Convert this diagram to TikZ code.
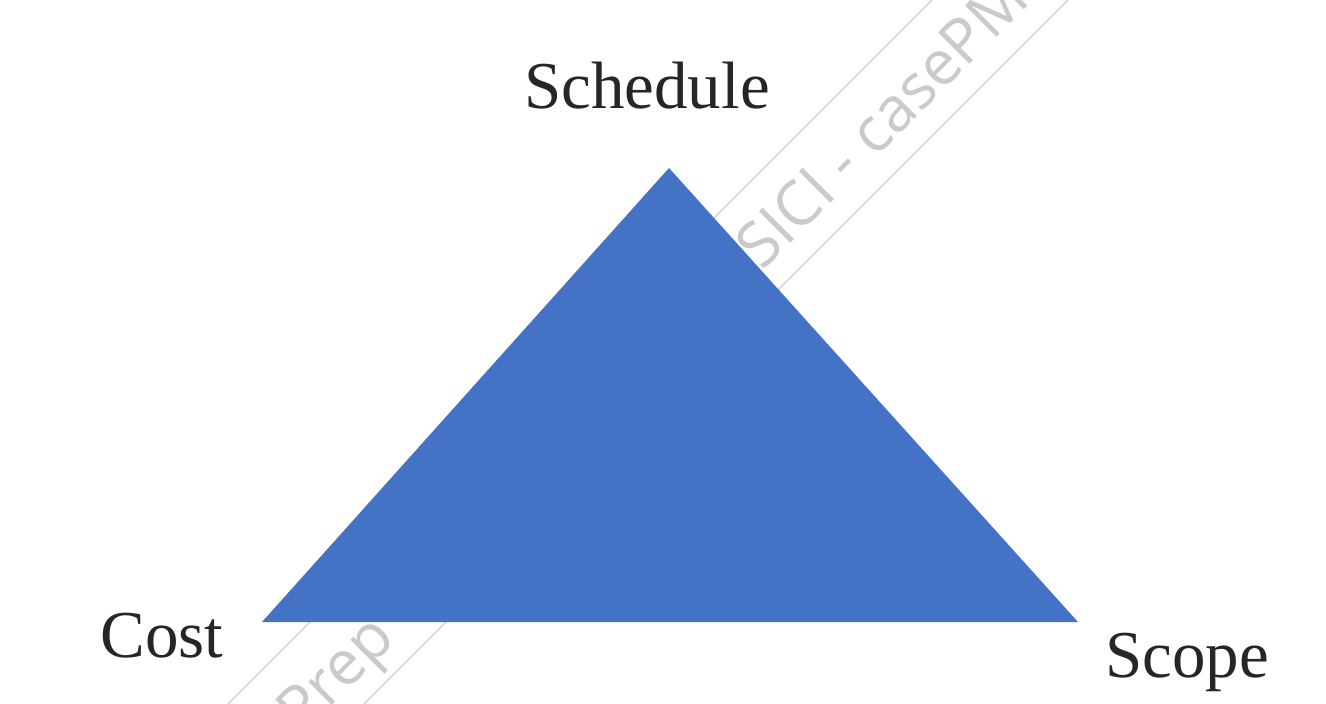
\documentclass[tikz,border=0pt]{standalone}
\usepackage{fontspec}
\setmainfont{Liberation Serif}
\newfontfamily\markfont{Open Sans}
\definecolor{triblue}{HTML}{4472C4}
\definecolor{markgray}{HTML}{CACACA}
\definecolor{bandgray}{HTML}{D6D6D6}
\begin{document}
\begin{tikzpicture}[x=1pt,y=-1pt,
  corner/.style={font=\fontsize{67}{80}\selectfont, text=black!85, inner sep=0pt, anchor=base},
  wmtext/.style={font=\markfont\fontsize{62}{72}\selectfont, text=markgray, inner sep=0pt, anchor=base west, rotate=45},
  band/.style={draw=bandgray, line width=1.6pt}]
  \useasboundingbox[fill=white] (0,0) rectangle (1326,704);
  % diagonal watermark band
  \draw[band] (228,704) -- (932,0);
  \draw[band] (364,704) -- (1068,0);
  \node[wmtext] (markA) at (302,736) {Prep};
  \node[wmtext] (markB) at (762,272) {SICI - casePM};
  % the triangle
  \coordinate (top) at (669,168);
  \coordinate (left) at (262,622);
  \coordinate (right) at (1078,622);
  \fill[triblue] (top) -- (right) -- (left) -- cycle;
  % corner labels
  \node[corner] (schedule) at (647,108) {Schedule};
  \node[corner] (cost) at (162,657) {Cost};
  \node[corner] (scope) at (1187,677) {Scope};
\end{tikzpicture}
\end{document}
